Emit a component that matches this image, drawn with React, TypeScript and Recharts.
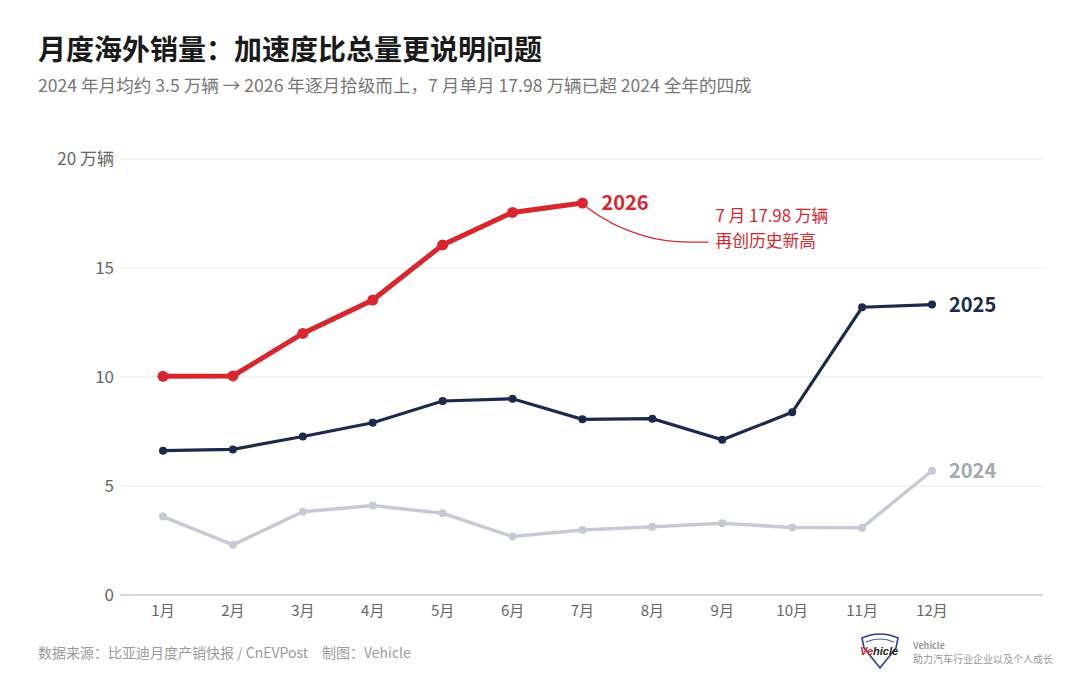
import React from 'react';
import { LineChart, Line, XAxis, YAxis, CartesianGrid } from 'recharts';

const months = ['1月', '2月', '3月', '4月', '5月', '6月', '7月', '8月', '9月', '10月', '11月', '12月'];
const sales2024 = [3.6, 2.3, 3.82, 4.1, 3.75, 2.68, 2.98, 3.13, 3.29, 3.1, 3.09, 5.7];
const sales2025 = [6.62, 6.68, 7.27, 7.9, 8.9, 9.0, 8.06, 8.09, 7.12, 8.38, 13.2, 13.32];
const sales2026 = [10.03, 10.05, 12.0, 13.53, 16.06, 17.55, 17.98];
const yTicks = [0, 5, 10, 15, 20];

const data = months.map((m, i) => ({
  month: m,
  y2024: sales2024[i],
  y2025: sales2025[i],
  y2026: i < sales2026.length ? sales2026[i] : null,
}));

const FONT = '"Noto Sans CJK SC", "Noto Sans", sans-serif';
const RED = '#d7262e';
const NAVY = '#1b2a4a';
const GREY = '#c5cad6';

const endLabel = (text: string, color: string, last: number, dx: number) => (props: any) => {
  const { x, y, index } = props;
  if (index !== last) return null;
  return (
    <text x={x + dx} y={y} dy="0.35em" fill={color} fontSize={20} fontWeight={700} fontFamily={FONT}>
      {text}
    </text>
  );
};

const label2026 = (props: any) => {
  const { x, y, index } = props;
  if (index !== sales2026.length - 1) return null;
  return (
    <g>
      <text x={x + 19} y={y} dy="0.35em" fill={RED} fontSize={20} fontWeight={700} fontFamily={FONT}>
        2026
      </text>
      <path
        d={`M ${x + 4} ${y + 4} C ${x + 40} ${y + 32}, ${x + 80} ${y + 39}, ${x + 106} ${y + 39} L ${x + 126} ${y + 39}`}
        fill="none"
        stroke={RED}
        strokeWidth={1.3}
      />
      <text x={x + 133} y={y + 13} dy="0.35em" fill={RED} fontSize={16.8} fontFamily={FONT}>
        7 月 17.98 万辆
      </text>
      <text x={x + 133} y={y + 38} dy="0.35em" fill={RED} fontSize={16.8} fontFamily={FONT}>
        再创历史新高
      </text>
    </g>
  );
};

export default function App() {
  return (
    <div style={{ position: 'absolute', left: 0, top: 0, width: 1080, height: 697, background: '#fff', fontFamily: FONT }}>
      <div style={{ position: 'absolute', left: 38, top: 28, fontSize: 28, fontWeight: 700, color: '#1a1a1a', lineHeight: '40px' }}>
        月度海外销量：加速度比总量更说明问题
      </div>
      <div style={{ position: 'absolute', left: 38, top: 72, fontSize: 17.6, color: '#777', lineHeight: '26px', whiteSpace: 'nowrap' }}>
        2024 年月均约 3.5 万辆 → 2026 年逐月拾级而上，7 月单月 17.98 万辆已超 2024 全年的四成
      </div>
      <LineChart
        width={1080}
        height={697}
        data={data}
        margin={{ top: 159, right: 37, bottom: 72, left: 60 }}
        style={{ position: 'absolute', left: 0, top: 0 }}
      >
        <CartesianGrid vertical={false} stroke="#ececec" strokeWidth={1.2} />
        <XAxis
          dataKey="month"
          padding={{ left: 43, right: 111 }}
          tickLine={false}
          axisLine={{ stroke: '#cfcfcf', strokeWidth: 1.5 }}
          tick={{ fill: '#666', fontSize: 15, fontFamily: FONT }}
          tickMargin={4}
          interval={0}
          height={30}
        />
        <YAxis
          width={60}
          domain={[0, 20]}
          ticks={yTicks}
          tickLine={false}
          axisLine={false}
          tickMargin={0}
          tick={{ fill: '#666', fontSize: 17, fontFamily: FONT }}
          tickFormatter={(v: number) => (v === 20 ? '20 万辆' : String(v))}
        />
        <Line
          dataKey="y2024"
          stroke={GREY}
          strokeWidth={3.5}
          dot={{ r: 4, fill: GREY, stroke: GREY, strokeWidth: 0 }}
          label={endLabel('2024', '#a4a9b3', months.length - 1, 17)}
          isAnimationActive={false}
        />
        <Line
          dataKey="y2025"
          stroke={NAVY}
          strokeWidth={3.2}
          dot={{ r: 4, fill: NAVY, stroke: NAVY, strokeWidth: 0 }}
          label={endLabel('2025', NAVY, months.length - 1, 17)}
          isAnimationActive={false}
        />
        <Line
          dataKey="y2026"
          stroke={RED}
          strokeWidth={5}
          dot={{ r: 5.5, fill: RED, stroke: RED, strokeWidth: 0 }}
          label={label2026}
          connectNulls={false}
          isAnimationActive={false}
        />
      </LineChart>
      <div style={{ position: 'absolute', left: 38, top: 642, fontSize: 14, color: '#9a9a9a', lineHeight: '20px' }}>
        数据来源：比亚迪月度产销快报 / CnEVPost　制图：Vehicle
      </div>
      <svg width={44} height={40} style={{ position: 'absolute', left: 858, top: 632 }}>
        <path d="M 4 6 Q 22 -2 40 6 L 38 16 L 22 36 L 6 16 Z" fill="#fff" stroke="#2c3e8c" strokeWidth={1.6} />
        <path d="M 8 10 Q 22 4 36 10" fill="none" stroke="#4a5fb0" strokeWidth={1.2} />
        <text x={2} y={23} fontSize={11} fontWeight={700} fontStyle="italic" fontFamily="Liberation Sans, sans-serif">
          <tspan fill="#d7262e">Ve</tspan>
          <tspan fill="#222">hicle</tspan>
        </text>
      </svg>
      <div style={{ position: 'absolute', left: 913, top: 640, fontSize: 9, fontWeight: 700, color: '#999', lineHeight: '12px' }}>
        Vehicle
      </div>
      <div style={{ position: 'absolute', left: 913, top: 652, fontSize: 10, color: '#999', lineHeight: '13px' }}>
        助力汽车行业企业以及个人成长
      </div>
    </div>
  );
}
